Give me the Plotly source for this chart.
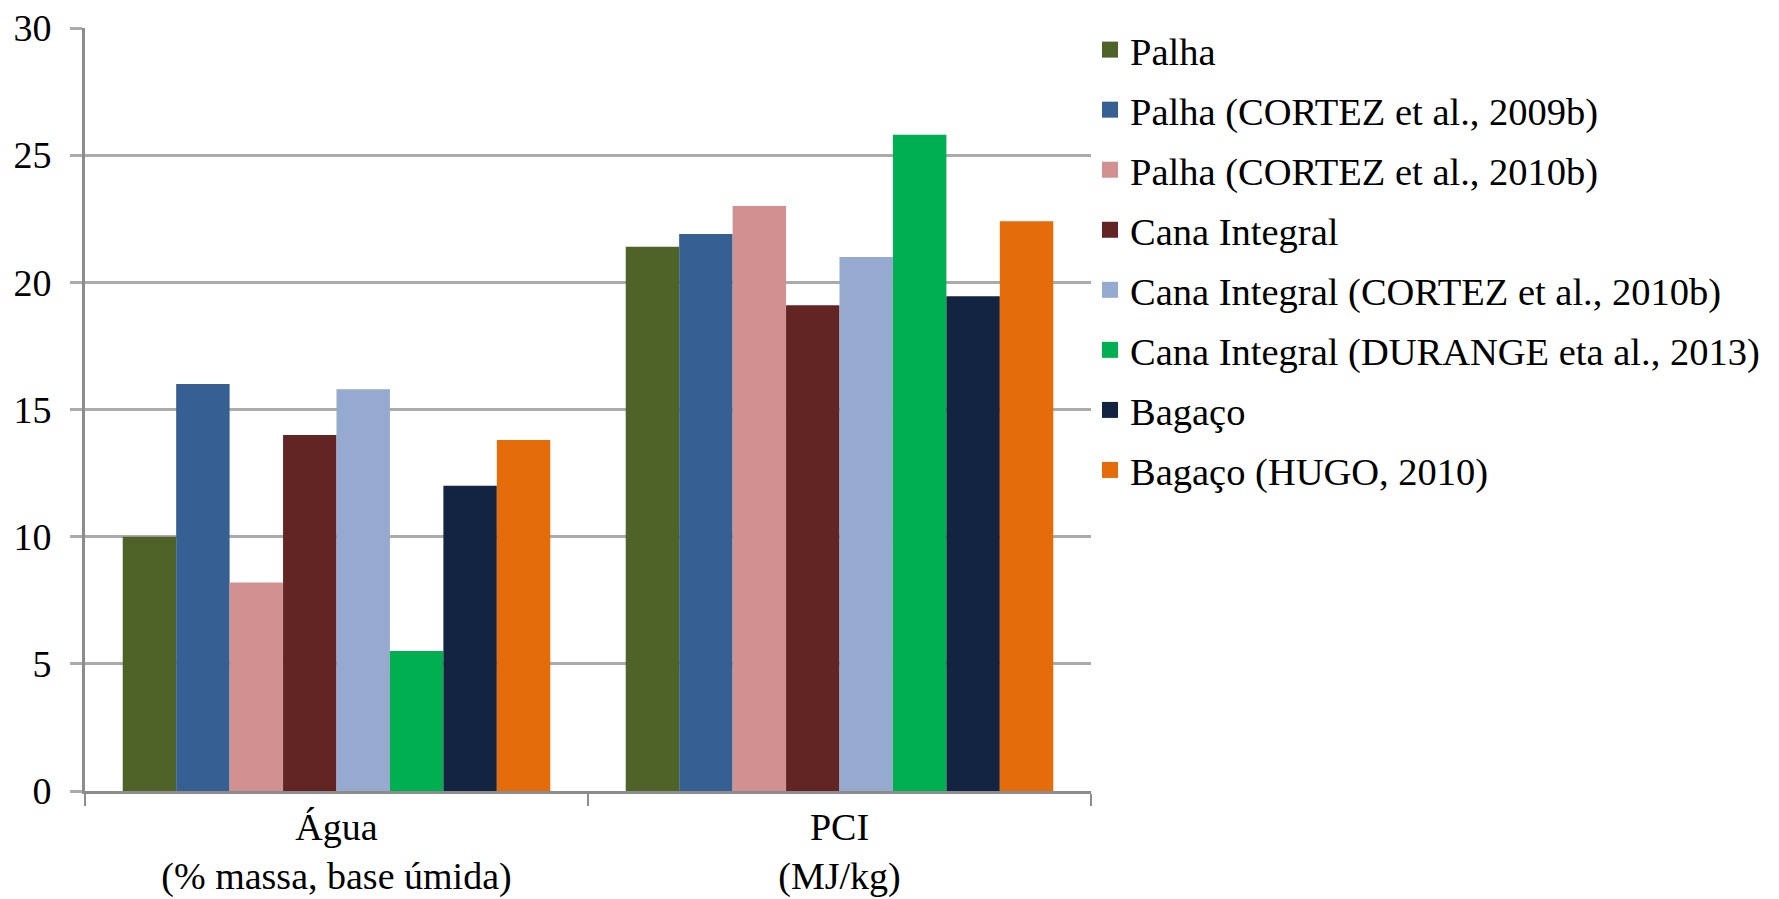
import plotly.graph_objects as go

categories = ["Água<br>(% massa, base úmida)", "PCI<br>(MJ/kg)"]
series_names = [
    "Palha",
    "Palha (CORTEZ et al., 2009b)",
    "Palha (CORTEZ et al., 2010b)",
    "Cana Integral",
    "Cana Integral (CORTEZ et al., 2010b)",
    "Cana Integral (DURANGE eta al., 2013)",
    "Bagaço",
    "Bagaço (HUGO, 2010)",
]
palha = [10.0, 21.4]
palha_cortez_2009b = [16.0, 21.9]
palha_cortez_2010b = [8.2, 23.0]
cana_integral = [14.0, 19.1]
cana_cortez_2010b = [15.8, 21.0]
cana_durange_2013 = [5.5, 25.8]
bagaco = [12.0, 19.45]
bagaco_hugo_2010 = [13.8, 22.4]

values = [palha, palha_cortez_2009b, palha_cortez_2010b, cana_integral,
          cana_cortez_2010b, cana_durange_2013, bagaco, bagaco_hugo_2010]
colors = ["#4f6228", "#366092", "#d29191", "#632523",
          "#96a9cf", "#00b050", "#12243f", "#e46c0a"]

FONT = "Liberation Serif"

fig = go.Figure()
for i, (name, vals, col) in enumerate(zip(series_names, values, colors)):
    fig.add_trace(go.Bar(x=categories, y=vals, name=name, legendgroup=f"g{i}",
                         showlegend=False,
                         marker=dict(color=col, line=dict(width=0))))
    # legend entry with a larger square swatch
    fig.add_trace(go.Scatter(x=[None], y=[None], mode="markers", name=name,
                             legendgroup=f"g{i}", showlegend=True,
                             marker=dict(symbol="square", size=20, color=col)))

fig.update_layout(
    width=1771, height=891,
    paper_bgcolor="white", plot_bgcolor="white",
    barmode="group", bargap=0.15, bargroupgap=0,
    margin=dict(l=77, r=688, t=20, b=108, autoexpand=False),
    font=dict(family=FONT, size=38, color="black"),
    legend=dict(x=0.999, y=1.013, xanchor="left", yanchor="top",
                font=dict(family=FONT, size=38.5, color="black"),
                itemwidth=30, tracegroupgap=7, traceorder="grouped",
                maxheight=870, bgcolor="rgba(0,0,0,0)"),
    showlegend=True,
)
fig.update_xaxes(
    showline=True, linecolor="#8c8c8c", linewidth=3,
    ticks="outside", tickson="boundaries", ticklen=12, tickwidth=2,
    tickcolor="#8c8c8c", showgrid=False, automargin=False,
    tickfont=dict(family=FONT, size=38, color="black"),
)
fig.update_yaxes(
    range=[0, 30], dtick=5, tick0=0,
    showline=True, linecolor="#8c8c8c", linewidth=3,
    showgrid=True, gridcolor="#ababab", gridwidth=3,
    ticks="outside", ticklen=12, tickwidth=3, tickcolor="#ababab",
    ticklabelstandoff=11, ticklabeloverflow="allow", zeroline=False,
    automargin=False,
    tickfont=dict(family=FONT, size=38, color="black"),
)

fig.write_html("out.html")
